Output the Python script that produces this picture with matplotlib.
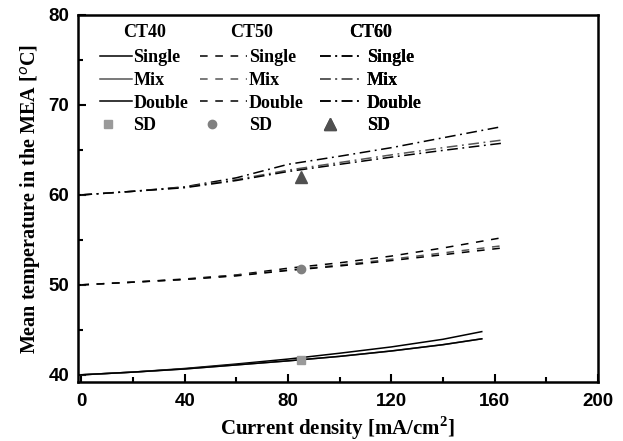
import numpy as np
import matplotlib
matplotlib.use('Agg')
import matplotlib.pyplot as plt
from matplotlib.legend_handler import HandlerLine2D

plt.rcParams['mathtext.fontset'] = 'custom'
plt.rcParams['mathtext.rm'] = 'Liberation Serif:bold'
plt.rcParams['mathtext.bf'] = 'Liberation Serif:bold'

# current density [mA/cm2]
x40 = [0, 20, 40, 60, 80, 100, 120, 140, 155]
x50 = [0, 20, 40, 60, 80, 100, 120, 140, 163]
x60 = [0, 20, 40, 60, 80, 100, 120, 140, 163]

# mean MEA temperature [C]
ct40_single = [40.0, 40.3, 40.7, 41.2, 41.75, 42.4, 43.1, 43.95, 44.8]
ct40_mix = [40.0, 40.3, 40.65, 41.1, 41.55, 42.05, 42.65, 43.35, 44.0]
ct40_double = [40.0, 40.3, 40.65, 41.1, 41.55, 42.05, 42.65, 43.35, 44.0]

ct50_single = [50.0, 50.3, 50.65, 51.1, 51.85, 52.45, 53.2, 54.1, 55.25]
ct50_mix = [50.0, 50.3, 50.6, 51.05, 51.65, 52.2, 52.85, 53.55, 54.35]
ct50_double = [50.0, 50.3, 50.6, 51.0, 51.6, 52.1, 52.7, 53.35, 54.1]

ct60_single = [60.0, 60.4, 60.9, 61.9, 63.4, 64.3, 65.25, 66.35, 67.6]
ct60_mix = [60.0, 60.4, 60.85, 61.7, 62.75, 63.6, 64.45, 65.25, 66.1]
ct60_double = [60.0, 60.4, 60.8, 61.6, 62.6, 63.4, 64.2, 64.95, 65.75]

sd_x = [85, 85, 85]
sd_y = [41.67, 51.74, 62.0]


# put the SD marker near the left end of the legend handle
class LeftMarker(HandlerLine2D):
    def get_xdata(self, legend, xdescent, ydescent, width, height, fontsize):
        xm = -xdescent + 0.25 * width
        return np.array([xm, xm]), np.array([xm])


fig = plt.figure(figsize=(6.23, 4.41), dpi=100)
ax = fig.add_axes([77.5/623, 1-382/441, (598-77.5)/623, (382-15)/441])

dash = (0, (5, 5))
dashdot = (0, (7, 3, 1.2, 3))
blk = 'black'
gry = '#555555'

l1, = ax.plot(x40, ct40_single, color=blk, lw=1.1, ls='-')
l2, = ax.plot(x40, ct40_mix, color=gry, lw=1.1, ls='-')
l3, = ax.plot(x40, ct40_double, color=blk, lw=1.1, ls='-')
m1, = ax.plot(sd_x[0], sd_y[0], ls='none', marker='s', ms=6, color='#9a9a9a')

l4, = ax.plot(x50, ct50_single, color=blk, lw=1.1, ls=dash)
l5, = ax.plot(x50, ct50_mix, color=gry, lw=1.1, ls=dash)
l6, = ax.plot(x50, ct50_double, color=blk, lw=1.1, ls=dash)
m2, = ax.plot(sd_x[1], sd_y[1], ls='none', marker='o', ms=6, color='#808080')

l7, = ax.plot(x60, ct60_single, color=blk, lw=1.1, ls=dashdot)
l8, = ax.plot(x60, ct60_mix, color=gry, lw=1.1, ls=dashdot)
l9, = ax.plot(x60, ct60_double, color=blk, lw=1.1, ls=dashdot)
m3, = ax.plot(sd_x[2], sd_y[2], ls='none', marker='^', ms=8, color='#505050')

ax.set_xlim(-1.5, 200)
ax.set_ylim(39.2, 80)
ax.set_xticks([0, 40, 80, 120, 160, 200])
ax.set_xticks(range(20, 200, 40), minor=True)
ax.set_yticks([40, 50, 60, 70, 80])
ax.set_yticks([45, 55, 65, 75], minor=True)
ax.tick_params(which='both', direction='in', width=1.5, top=False, right=False)
ax.tick_params(which='major', length=6)
ax.tick_params(axis='x', which='major', pad=8)
ax.tick_params(axis='y', which='major', pad=6)
ax.tick_params(which='minor', length=3.5)
for lab in ax.get_xticklabels() + ax.get_yticklabels():
    lab.set_fontfamily('Liberation Sans')
    lab.set_fontweight('bold')
    lab.set_fontsize(13.5)
for s in ax.spines.values():
    s.set_linewidth(1.8)

ax.set_xlabel('Current density [mA/cm$^2$]', family='Liberation Serif',
              weight='bold', fontsize=15, labelpad=3)
ax.set_ylabel('Mean temperature in the MEA [$^{o}$C]', family='Liberation Serif',
              weight='bold', fontsize=14.5, labelpad=4)

font = {'family': 'Liberation Serif', 'weight': 'bold', 'size': 13}
names = ['Single', 'Mix', 'Double', 'SD']
hm = {m1: LeftMarker(), m2: LeftMarker(), m3: LeftMarker()}
specs = [([l1, l2, l3, m1], 'CT40', 1.75, 0.1, 100),
         ([l4, l5, l6, m2], 'CT50', 2.6, 0.1, 200),
         ([l7, l8, l9, m3], 'CT60', 2.2, 0.4, 320)]
for handles, title, hl, tp, px in specs:
    leg = ax.legend(handles, names, title=title, prop=font, title_fontproperties=font,
                    frameon=False, loc='upper left', handlelength=hl,
                    handletextpad=tp, labelspacing=0.31, borderpad=0,
                    borderaxespad=0, handler_map=hm,
                    bbox_to_anchor=(px/623, 1-24/441),
                    bbox_transform=fig.transFigure)
    leg._legend_box.sep = 6
    ax.add_artist(leg)

fig.savefig('out.png', dpi=100)
